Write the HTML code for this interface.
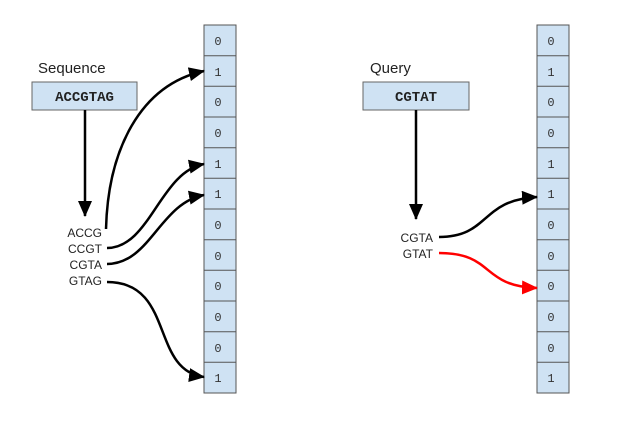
<!DOCTYPE html>
<html><head><style>
body{margin:0;background:#fff;}
svg text{font-family:"Liberation Sans",sans-serif;}
.m{font-family:"Liberation Mono",monospace;font-size:12px;fill:#333;}
</style></head><body>
<svg width="621" height="416" viewBox="0 0 621 416" xmlns="http://www.w3.org/2000/svg">
<defs>
<marker id="ahb" markerWidth="16" markerHeight="14" refX="15" refY="7" orient="auto" markerUnits="userSpaceOnUse" viewBox="0 0 16 14"><path d="M0,0 L16,7 L0,14 z" fill="#000"/></marker>
<marker id="ahr" markerWidth="16" markerHeight="14" refX="15" refY="7" orient="auto" markerUnits="userSpaceOnUse" viewBox="0 0 16 14"><path d="M0,0 L16,7 L0,14 z" fill="#f00"/></marker>
</defs>
<rect x="204" y="25" width="32" height="368" fill="#cfe2f3" stroke="#555" stroke-width="1"/>
<g stroke="#555" stroke-width="1">
<line x1="204" y1="55.7" x2="236" y2="55.7"/><line x1="204" y1="86.3" x2="236" y2="86.3"/><line x1="204" y1="117" x2="236" y2="117"/><line x1="204" y1="147.7" x2="236" y2="147.7"/><line x1="204" y1="178.3" x2="236" y2="178.3"/><line x1="204" y1="209" x2="236" y2="209"/><line x1="204" y1="239.7" x2="236" y2="239.7"/><line x1="204" y1="270.3" x2="236" y2="270.3"/><line x1="204" y1="301" x2="236" y2="301"/><line x1="204" y1="331.7" x2="236" y2="331.7"/><line x1="204" y1="362.3" x2="236" y2="362.3"/>
</g>
<rect x="537" y="25" width="32" height="368" fill="#cfe2f3" stroke="#555" stroke-width="1"/>
<g stroke="#555" stroke-width="1">
<line x1="537" y1="55.7" x2="569" y2="55.7"/><line x1="537" y1="86.3" x2="569" y2="86.3"/><line x1="537" y1="117" x2="569" y2="117"/><line x1="537" y1="147.7" x2="569" y2="147.7"/><line x1="537" y1="178.3" x2="569" y2="178.3"/><line x1="537" y1="209" x2="569" y2="209"/><line x1="537" y1="239.7" x2="569" y2="239.7"/><line x1="537" y1="270.3" x2="569" y2="270.3"/><line x1="537" y1="301" x2="569" y2="301"/><line x1="537" y1="331.7" x2="569" y2="331.7"/><line x1="537" y1="362.3" x2="569" y2="362.3"/>
</g>
<g text-anchor="middle">
<text class="m" x="218" y="45">0</text><text class="m" x="218" y="76">1</text><text class="m" x="218" y="106">0</text><text class="m" x="218" y="137">0</text><text class="m" x="218" y="168">1</text><text class="m" x="218" y="198">1</text><text class="m" x="218" y="229">0</text><text class="m" x="218" y="260">0</text><text class="m" x="218" y="290">0</text><text class="m" x="218" y="321">0</text><text class="m" x="218" y="352">0</text><text class="m" x="218" y="382">1</text>
<text class="m" x="551" y="45">0</text><text class="m" x="551" y="76">1</text><text class="m" x="551" y="106">0</text><text class="m" x="551" y="137">0</text><text class="m" x="551" y="168">1</text><text class="m" x="551" y="198">1</text><text class="m" x="551" y="229">0</text><text class="m" x="551" y="260">0</text><text class="m" x="551" y="290">0</text><text class="m" x="551" y="321">0</text><text class="m" x="551" y="352">0</text><text class="m" x="551" y="382">1</text>
</g>
<text x="38" y="73" font-size="15" fill="#222">Sequence</text>
<rect x="32" y="82" width="105" height="28" fill="#cfe2f3" stroke="#666"/>
<text x="84.5" y="101" font-size="14" font-weight="bold" text-anchor="middle" style="font-family:'Liberation Mono',monospace" fill="#222">ACCGTAG</text>
<line x1="85" y1="110" x2="85" y2="216" stroke="#000" stroke-width="2.5" marker-end="url(#ahb)"/>
<g font-size="12" fill="#222" text-anchor="end">
<text x="102" y="237">ACCG</text><text x="102" y="253">CCGT</text><text x="102" y="269">CGTA</text><text x="102" y="285">GTAG</text>
</g>
<g fill="none" stroke="#000" stroke-width="2.5">
<path d="M106,229 C108,150 140,85 204,71" marker-end="url(#ahb)"/>
<path d="M107,248 C150,248 160,172 204,164" marker-end="url(#ahb)"/>
<path d="M107,264 C150,264 160,203 204,195" marker-end="url(#ahb)"/>
<path d="M107,282 C175,282 150,370 204,377" marker-end="url(#ahb)"/>
</g>
<text x="370" y="73" font-size="15" fill="#222">Query</text>
<rect x="363" y="82" width="106" height="28" fill="#cfe2f3" stroke="#666"/>
<text x="416" y="101" font-size="14" font-weight="bold" text-anchor="middle" style="font-family:'Liberation Mono',monospace" fill="#222">CGTAT</text>
<line x1="416" y1="110" x2="416" y2="219" stroke="#000" stroke-width="2.5" marker-end="url(#ahb)"/>
<g font-size="12" fill="#222" text-anchor="end">
<text x="433" y="242">CGTA</text><text x="433" y="258">GTAT</text>
</g>
<path d="M439,237 C490,237 480,200 537,197" fill="none" stroke="#000" stroke-width="2.5" marker-end="url(#ahb)"/>
<path d="M439,253 C495,253 480,286 537,288" fill="none" stroke="#f00" stroke-width="2.5" marker-end="url(#ahr)"/>
</svg>
</body></html>
